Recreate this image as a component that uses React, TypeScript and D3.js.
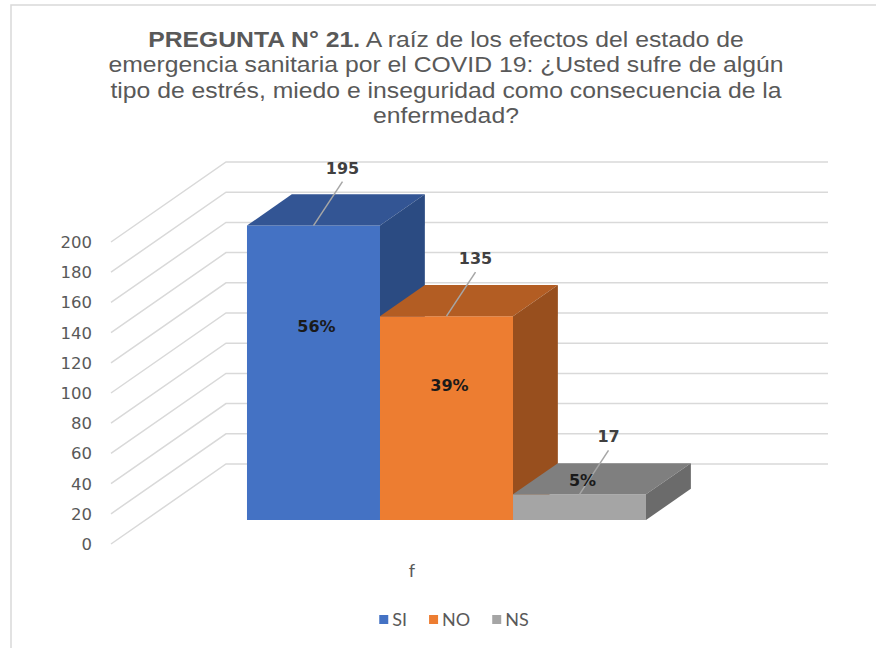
import React, { useEffect, useRef } from 'react';
import * as d3 from 'd3';

const titleBold = 'PREGUNTA N° 21.';
const titleLines = [
	' A raíz de los efectos del estado de',
	'emergencia sanitaria por el COVID 19: ¿Usted sufre de algún',
	'tipo de estrés, miedo e inseguridad como consecuencia de la',
	'enfermedad?',
];
const categories = ['f'];
const seriesNames = ['SI', 'NO', 'NS'];
const seriesValues = [195, 135, 17];
const seriesPercents = ['56%', '39%', '5%'];
const yTickValues = [0, 20, 40, 60, 80, 100, 120, 140, 160, 180, 200];

const frontColors = ['#4472c4', '#ed7d31', '#a5a5a5'];
const topColors = ['#335594', '#b35d23', '#7f7f7f'];
const sideColors = ['#2b4b82', '#984f1e', '#6b6b6b'];

const W = 876;
const H = 648;

const App: React.FC = () => {
	const svgRef = useRef<SVGSVGElement>(null);

	useEffect(() => {
		const root = d3.select(svgRef.current);
		root.selectAll('*').remove();

		// depth offset of the whole floor (front -> back wall)
		const DX = 115;
		const DY = 80;
		const floorLeft = 111;
		const floorRight = 713;

		const y = d3.scaleLinear().domain([0, 200]).range([544, 242]);
		const x = d3
			.scaleBand<string>()
			.domain(seriesNames)
			.range([floorLeft, floorRight])
			.paddingInner(0)
			.paddingOuter(0.763);
		const proj = (px: number, v: number, z: number): [number, number] => [px + z * DX, y(v) - z * DY];

		// chart frame
		root
			.append('rect')
			.attr('x', 11)
			.attr('y', 5)
			.attr('width', 900)
			.attr('height', 700)
			.attr('fill', 'white')
			.attr('stroke', '#d9d9d9')
			.attr('stroke-width', 1.5);

		// title (the original is a bit stretched horizontally)
		const title = root
			.append('text')
			.attr('transform', 'translate(446,0) scale(1.125,1)')
			.attr('text-anchor', 'middle')
			.style('font-family', '"Liberation Sans", Arial, sans-serif')
			.style('font-size', '22px')
			.style('fill', '#595959');
		titleLines.forEach((line, i) => {
			const t = title
				.append('tspan')
				.attr('x', 0)
				.attr('y', 47 + i * 25.3);
			if (i === 0) {
				t.append('tspan').style('font-weight', 'bold').text(titleBold);
				t.append('tspan').text(line);
			} else {
				t.text(line);
			}
		});

		// gridlines: side wall + back wall
		const grid = root.append('g').attr('stroke', '#d9d9d9').attr('stroke-width', 1.5).attr('fill', 'none');
		yTickValues.forEach((v) => {
			const a = proj(floorLeft, v, 0);
			const b = proj(floorLeft, v, 1);
			const c = proj(floorRight, v, 1);
			grid.append('path').attr('d', d3.line()([a, b, c]) as string);
		});

		// axis labels
		root
			.append('g')
			.selectAll('text')
			.data(yTickValues)
			.enter()
			.append('text')
			.attr('x', 92)
			.attr('y', (d) => y(d) + 6)
			.attr('text-anchor', 'end')
			.style('font-family', '"DejaVu Sans", sans-serif')
			.style('font-size', '16.5px')
			.style('fill', '#595959')
			.text((d) => d);

		// bars
		const z0 = 0.3;
		const z1 = 0.69;
		const bars = root.append('g');
		seriesNames.forEach((name, i) => {
			const v = seriesValues[i];
			const x0 = x(name) as number;
			const x1 = x0 + x.bandwidth();
			const g = bars.append('g');
			const poly = (pts: [number, number][]) => 'M' + pts.map((p) => p.join(',')).join('L') + 'Z';
			g.append('path')
				.attr('d', poly([proj(x0, 0, z0), proj(x1, 0, z0), proj(x1, v, z0), proj(x0, v, z0)]))
				.attr('fill', frontColors[i]);
			g.append('path')
				.attr('d', poly([proj(x0, v, z0), proj(x1, v, z0), proj(x1, v, z1), proj(x0, v, z1)]))
				.attr('fill', topColors[i]);
			g.append('path')
				.attr('d', poly([proj(x1, 0, z0), proj(x1, 0, z1), proj(x1, v, z1), proj(x1, v, z0)]))
				.attr('fill', sideColors[i]);
		});

		// labels
		const labels = root.append('g');
		seriesNames.forEach((name, i) => {
			const v = seriesValues[i];
			const cx = (x(name) as number) + x.bandwidth() / 2 + z0 * DX;
			const top = y(v) - z0 * DY;
			const bottom = y(0) - z0 * DY;
			labels
				.append('line')
				.attr('x1', cx)
				.attr('y1', top)
				.attr('x2', cx + 29)
				.attr('y2', top - 44)
				.attr('stroke', '#a6a6a6')
				.attr('stroke-width', 1.5);
			labels
				.append('text')
				.attr('x', cx + 29)
				.attr('y', top - 52)
				.attr('text-anchor', 'middle')
				.style('font-family', '"DejaVu Sans", sans-serif')
				.style('font-weight', 'bold')
				.style('font-size', '16px')
				.style('fill', '#404040')
				.text(v);
			// percentage sits on the front face, or on the top face when the bar is too short
			const py = bottom - top > 40 ? y(v * 0.66) - z0 * DY : top - 14;
			labels
				.append('text')
				.attr('x', cx + 3)
				.attr('y', py + 6)
				.attr('text-anchor', 'middle')
				.style('font-family', '"DejaVu Sans", sans-serif')
				.style('font-weight', 'bold')
				.style('font-size', '16px')
				.style('fill', '#1a1a1a')
				.text(seriesPercents[i]);
		});

		// category label
		root
			.append('text')
			.attr('x', (floorLeft + floorRight) / 2)
			.attr('y', y(0) + 33)
			.attr('text-anchor', 'middle')
			.style('font-family', 'Lato, sans-serif')
			.style('font-size', '18px')
			.style('fill', '#595959')
			.text(categories[0]);

		// legend
		const legend = root.append('g');
		let lx = 0;
		seriesNames.forEach((name, i) => {
			const item = legend.append('g').attr('transform', `translate(${lx},0)`);
			item.append('rect').attr('x', 0).attr('y', 615).attr('width', 9).attr('height', 9).attr('fill', frontColors[i]);
			const t = item
				.append('text')
				.attr('x', 13)
				.attr('y', 626)
				.style('font-family', 'Lato, sans-serif')
				.style('font-size', '18px')
				.style('fill', '#595959')
				.text(name);
			const w = (t.node() as SVGTextElement).getComputedTextLength();
			lx += 13 + w + 22;
		});
		const legendWidth = lx - 22;
		legend.attr('transform', `translate(${454 - legendWidth / 2},0)`);
	}, []);

	return <svg ref={svgRef} width={W} height={H} style={{ position: 'absolute', left: 0, top: 0 }} />;
};

export default App;
